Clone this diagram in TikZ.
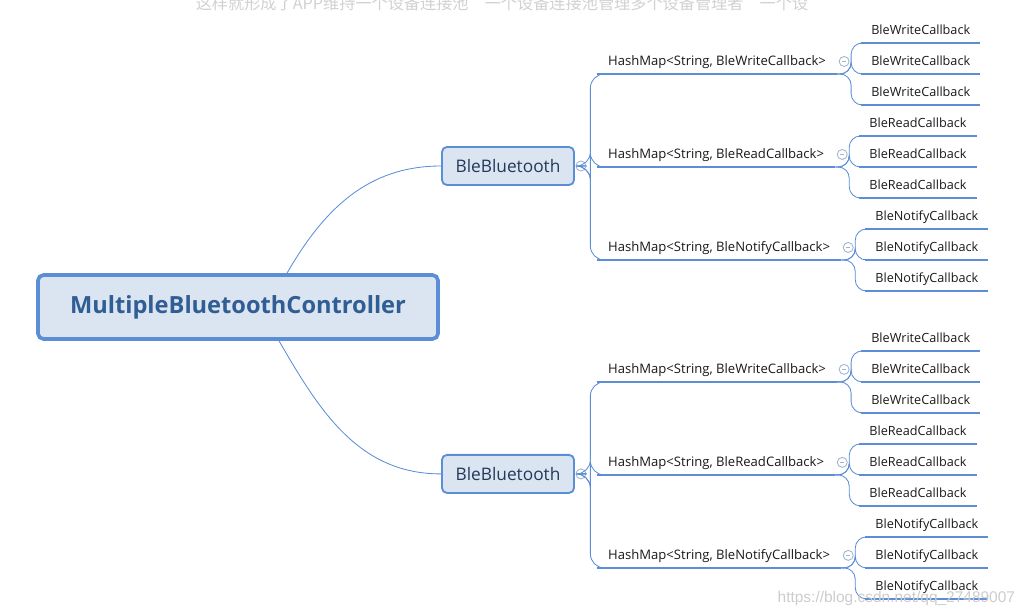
\documentclass[tikz,border=0pt]{standalone}
\usepackage{fontspec}
\setmainfont{Open Sans}
\newfontfamily\cjkfont{Noto Sans CJK SC}
\newfontfamily\markfont{Liberation Sans}
\usepackage{tikz}
\usetikzlibrary{positioning,calc}
\definecolor{linkblue}{HTML}{5B8ED6}
\definecolor{boxfill}{HTML}{DBE5F1}
\definecolor{rootblue}{HTML}{2F5D94}
\definecolor{boxtext}{HTML}{23395B}
\definecolor{togglegray}{HTML}{9FB3CC}

\begin{document}
\begin{tikzpicture}[x=0.025cm, y=-0.025cm,
  rootbox/.style={draw=linkblue, line width=2.6pt, rounded corners=4pt, fill=boxfill, minimum width=10cm, minimum height=1.6cm, font=\fontsize{16.8}{20}\selectfont\bfseries, text=rootblue},
  bbbox/.style={draw=linkblue, line width=1.3pt, rounded corners=3.5pt, fill=boxfill, minimum width=3.3cm, minimum height=0.95cm, font=\fontsize{12.3}{15}\selectfont, text=boxtext},
  hmap/.style={anchor=south west, inner xsep=7.8pt, inner ysep=3.5pt, text height=7pt, text depth=2pt, font=\fontsize{9.3}{11}\selectfont, text=black!90},
  leaf/.style={hmap, inner xsep=7pt, font=\fontsize{9}{11}\selectfont},
  toggle/.style={circle, draw=togglegray, fill=white, line width=0.6pt, minimum size=0.25cm, inner sep=0pt,
    path picture={\draw[togglegray, line width=0.6pt] ([xshift=-1.3pt]path picture bounding box.center) -- ([xshift=1.3pt]path picture bounding box.center);}},
  link/.style={linkblue, line width=0.6pt},
  uline/.style={linkblue, line width=1.7pt}
]
  \useasboundingbox (0,0) rectangle (1029,616);

  \node[text=black!18, font=\cjkfont\fontsize{11.5}{13}\selectfont, anchor=base] (note) at (502,10) {这样就形成了APP维持一个设备连接池　一个设备连接池管理多个设备管理者　一个设};

  \node[rootbox] (root) at (238,307) {MultipleBluetoothController};
  \node[bbbox] (bb1) at (508,166) {BleBluetooth};
  \node[bbbox, below=6.7cm of bb1] (bb2) {BleBluetooth};

  \draw[link] ($(root.north)+(49,0)$) to[out=60,in=180] (bb1.west);
  \draw[link] ($(root.south)+(41,0)$) to[out=-60,in=180] (bb2.west);

  \foreach \g in {1,2} {
    \node[toggle] (t\g) at ($(bb\g.east)+(6,0)$) {};
    \foreach \k/\cb/\dy in {a/Write/-92, b/Read/1, c/Notify/94} {
      \node[hmap] (h\g\k) at ($(bb\g.east)+(22,\dy)$) {HashMap<String, Ble\cb Callback>};
      \draw[uline] (h\g\k.south west) -- (h\g\k.south east);
      \draw[link, rounded corners=10] (t\g.east) -- ++(4,0) |- (h\g\k.south west);
      \foreach \j/\off in {1/-31, 2/0, 3/31} {
        \node[leaf] (l\g\k\j) at ($(h\g\k.south east)+(24,\off)$) {Ble\cb Callback};
        \draw[uline] (l\g\k\j.south west) -- (l\g\k\j.south east);
        \draw[link, rounded corners=8] (h\g\k.south east) -- ++(14,0) |- (l\g\k\j.south west);
      }
      \node[toggle] (s\g\k) at ($(h\g\k.east)+(7,-1)$) {};
    }
  }

  \node[text=black!20, font=\markfont\fontsize{11}{13}\selectfont, anchor=east] (mark) at (1020,598) {https://blog.csdn.net/qq\_27489007};
\end{tikzpicture}
\end{document}
